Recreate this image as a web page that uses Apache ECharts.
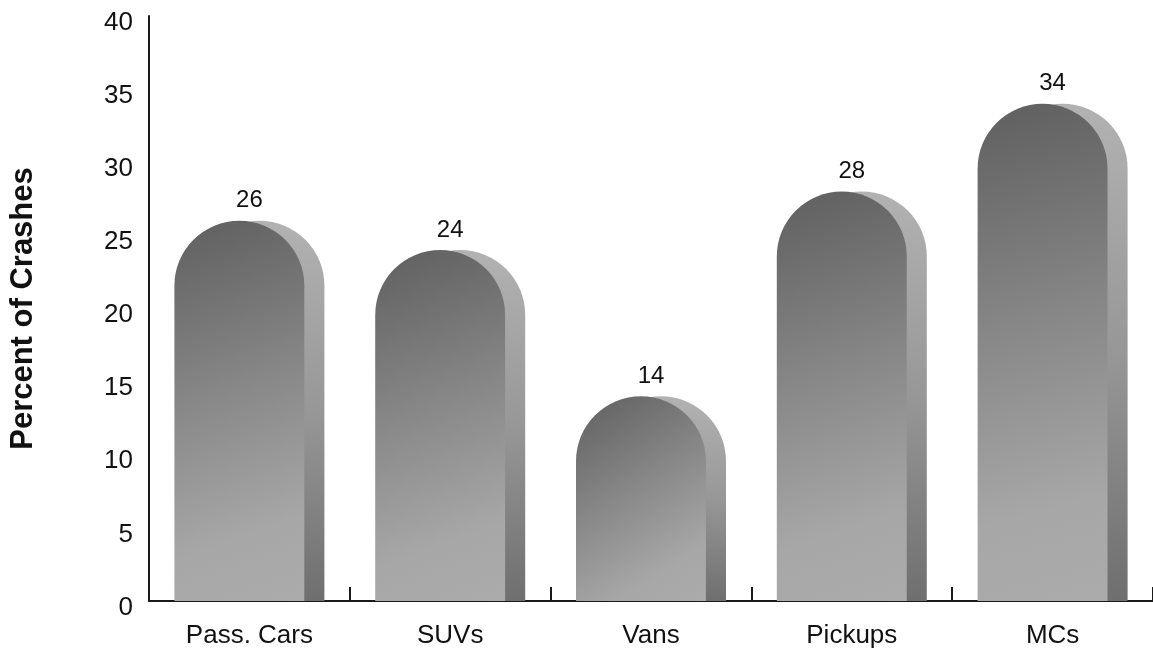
<!DOCTYPE html>
<html>
<head>
<meta charset="utf-8">
<script src="https://cdn.jsdelivr.net/npm/echarts@6/dist/echarts.min.js"></script>
<style>
  html, body { margin: 0; padding: 0; background: #ffffff; }
  #chart { width: 1153px; height: 652px; }
</style>
</head>
<body>
<div id="chart"></div>
<script>
// Vehicle types and their share of crashes (%)
const categories = ['Pass. Cars', 'SUVs', 'Vans', 'Pickups', 'MCs'];
const crashShare = [26, 24, 14, 28, 34];
const yTicks = [0, 5, 10, 15, 20, 25, 30, 35, 40];

const FONT = '"Liberation Sans", Arial, sans-serif';

// Rounded-top column path: vertical sides, semicircular cap
function tombPath(x, top, w, base) {
  const r = w / 2;
  return 'M' + x + ',' + base +
    'L' + x + ',' + (top + r) +
    'A' + r + ',' + r + ' 0 0 1 ' + (x + w) + ',' + (top + r) +
    'L' + (x + w) + ',' + base + 'Z';
}

function renderColumn(params, api) {
  const idx = api.value(0);
  const val = api.value(1);
  const topPt = api.coord([idx, val]);
  const basePt = api.coord([idx, 0]);
  const band = api.size([1, 0])[0];
  const frontW = band * 0.647;
  const sideW = band * 0.1;
  const x0 = topPt[0] - (frontW + sideW) / 2;
  const top = topPt[1];
  const base = basePt[1];
  return {
    type: 'group',
    children: [
      {
        // extruded side face, sitting behind the front
        type: 'path',
        shape: { pathData: tombPath(x0 + sideW, top, frontW, base) },
        style: {
          fill: new echarts.graphic.LinearGradient(0, 0, 0, 1, [
            { offset: 0, color: '#b2b2b2' },
            { offset: 0.5, color: '#979797' },
            { offset: 1, color: '#6f6f6f' }
          ])
        }
      },
      {
        type: 'path',
        shape: { pathData: tombPath(x0, top, frontW, base) },
        style: {
          fill: new echarts.graphic.LinearGradient(0, 0, 1, 1, [
            { offset: 0, color: '#5f5f5f' },
            { offset: 0.45, color: '#888888' },
            { offset: 0.8, color: '#a7a7a7' },
            { offset: 1, color: '#ababab' }
          ])
        }
      },
      {
        type: 'text',
        x: topPt[0],
        y: top - 8,
        style: {
          text: String(val),
          fill: '#111',
          font: '24px ' + FONT,
          align: 'center',
          verticalAlign: 'bottom'
        }
      }
    ]
  };
}

const chart = echarts.init(document.getElementById('chart'), null, { renderer: 'canvas' });

chart.setOption({
  backgroundColor: '#ffffff',
  animation: false,
  grid: { left: 149, right: 0, top: 16, bottom: 51 },
  xAxis: {
    type: 'category',
    data: categories,
    boundaryGap: true,
    axisLine: { lineStyle: { color: '#1a1a1a', width: 2 } },
    axisTick: { show: true, inside: true, length: 14, lineStyle: { color: '#1a1a1a', width: 2 } },
    axisLabel: { color: '#111', fontSize: 26, fontFamily: FONT, margin: 22 }
  },
  yAxis: {
    type: 'value',
    min: yTicks[0],
    max: yTicks[yTicks.length - 1],
    interval: yTicks[1] - yTicks[0],
    name: 'Percent of Crashes',
    nameLocation: 'middle',
    nameGap: 110,
    nameTextStyle: { color: '#111', fontSize: 31, fontWeight: 'bold', fontFamily: FONT },
    axisLine: { show: true, lineStyle: { color: '#1a1a1a', width: 2 } },
    axisTick: { show: false },
    splitLine: { show: false },
    axisLabel: {
      color: '#111', fontSize: 26, fontFamily: FONT, margin: 16,
      verticalAlign: 'top', lineHeight: 13
    }
  },
  series: [{
    type: 'custom',
    renderItem: renderColumn,
    encode: { x: 0, y: 1 },
    data: crashShare.map((v, i) => [i, v])
  }]
});
</script>
</body>
</html>
